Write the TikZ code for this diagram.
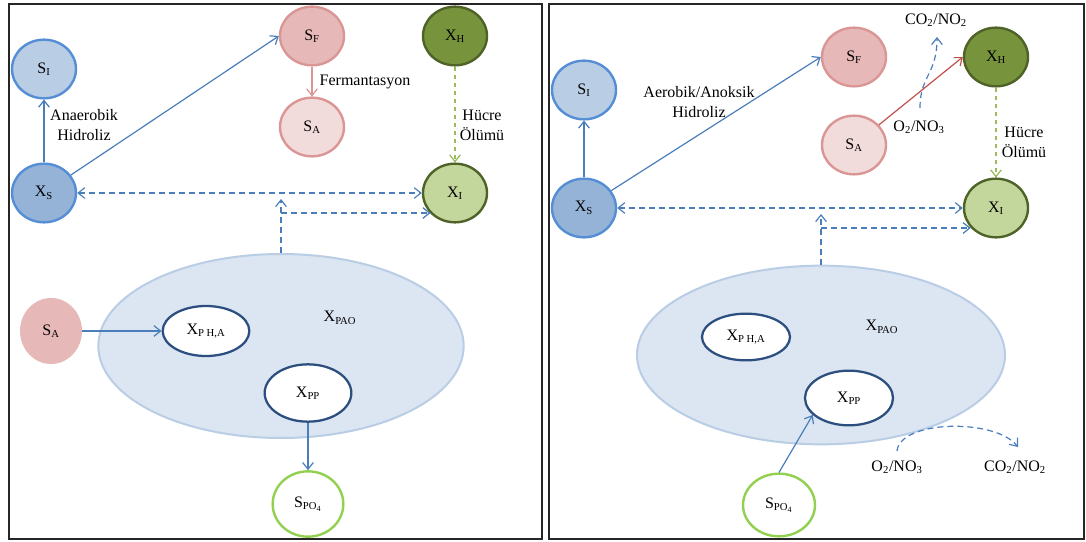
\documentclass[tikz,border=0pt]{standalone}
\usepackage{fontspec}
\setmainfont{Liberation Serif}
\usetikzlibrary{shapes.geometric,arrows.meta}

\definecolor{lnblue}{HTML}{4A7EBB}
\definecolor{siF}{HTML}{B9CDE5}
\definecolor{bluedraw}{HTML}{558ED5}
\definecolor{xsF}{HTML}{95B3D7}
\definecolor{sfF}{HTML}{E6B9B8}
\definecolor{pinkdraw}{HTML}{D99694}
\definecolor{saF}{HTML}{F2DCDB}
\definecolor{xhF}{HTML}{77933C}
\definecolor{greendraw}{HTML}{4F6228}
\definecolor{xiF}{HTML}{C3D69B}
\definecolor{paoF}{HTML}{DCE6F2}
\definecolor{paoD}{HTML}{B9CDE5}
\definecolor{innerD}{HTML}{2C4F80}
\definecolor{poD}{HTML}{92D050}
\definecolor{redln}{HTML}{C0504D}
\definecolor{grdash}{HTML}{9BBB59}

\begin{document}
\begin{tikzpicture}[x=0.75pt,y=-0.75pt,
  font=\fontsize{12}{15}\selectfont,
  bub/.style={ellipse, inner sep=0pt, line width=1.8pt,
    minimum width=48pt, minimum height=44pt},
  cell/.style={ellipse, inner sep=0pt, fill=paoF, draw=paoD, line width=1.5pt},
  inbub/.style={ellipse, inner sep=0pt, fill=white, draw=innerD, line width=1.7pt},
  barb/.style={Straight Barb[length=5pt,width=8pt]},
  tip/.style={-{Straight Barb[length=5pt,width=8pt]}},
  flow/.style={draw=lnblue, line width=0.9pt, tip},
  dflow/.style={flow, dash pattern=on 4.5pt off 3pt},
  ddflow/.style={draw=lnblue, line width=0.9pt, dash pattern=on 4.5pt off 3pt,
    {Straight Barb[length=5pt,width=8pt]}-{Straight Barb[length=5pt,width=8pt]}},
  gdash/.style={draw=grdash, line width=0.9pt, dash pattern=on 3.5pt off 2.5pt, tip},
  frame/.style={draw=black!85, line width=1.6pt}
]
\useasboundingbox (0,0) rectangle (1086,542);

% panel frames
\draw[frame] (9,4) rectangle (542,539);
\draw[frame] (549,4) rectangle (1084,539);

% ---------------- left panel: anaerobic ----------------
\node[cell, minimum width=274pt, minimum height=138pt] (PAOL) at (281,346) {};
\node (PAOLab) at (340,318) {X\textsubscript{PAO}};

\node[bub, fill=siF, draw=bluedraw] (SIL) at (44,69) {S\textsubscript{I}};
\node[bub, fill=xsF, draw=bluedraw] (XSL) at (44,193) {X\textsubscript{S}};
\node[bub, fill=sfF, draw=pinkdraw] (SFL) at (312,36) {S\textsubscript{F}};
\node[bub, fill=saF, draw=pinkdraw] (SAL) at (312,127) {S\textsubscript{A}};
\node[bub, fill=xhF, draw=greendraw] (XHL) at (455,36) {X\textsubscript{H}};
\node[bub, fill=xiF, draw=greendraw] (XIL) at (455,193) {X\textsubscript{I}};

\node[ellipse, inner sep=0pt, fill=sfF, minimum width=46.5pt, minimum height=49.5pt] (SA2L) at (51,331) {S\textsubscript{A}};
\node[inbub, minimum width=65pt, minimum height=37.5pt] (XPHL) at (206,331) {X\textsubscript{P H,A}};
\node[inbub, minimum width=65pt, minimum height=43pt] (XPPL) at (308,393) {X\textsubscript{PP}};
\node[bub, fill=white, draw=poD, minimum width=53pt, minimum height=49pt] (SPOL) at (308,504) {S\textsubscript{PO\textsubscript{4}}};

\node[align=center] (LhydL) at (84,125) {Anaerobik\\Hidroliz};
\node[anchor=west] (LferL) at (315,82) {Fermantasyon};
\node[align=center] (LdeathL) at (482,125) {Hücre\\Ölümü};

\draw[flow] (XSL) -- (SIL);
\draw[flow] (XSL) -- (SFL.west);
\draw[flow, draw=pinkdraw] (SFL) -- (SAL);
\draw[gdash] (XHL) -- (XIL);
\draw[ddflow] (XSL) -- (XIL);
\coordinate (LupTip) at (281,199);
\coordinate (Ljoin) at (281,213);
\draw[dflow] (PAOL.north) -- (LupTip);
\draw[dflow] (Ljoin) -- (Ljoin -| XIL.220);
\draw[flow] (SA2L) -- (XPHL);
\draw[flow] (XPPL) -- (SPOL);

% ---------------- right panel: aerobic / anoxic ----------------
\node[cell, minimum width=276pt, minimum height=134pt] (PAOR) at (821,355) {};
\node (PAORLab) at (882,327) {X\textsubscript{PAO}};

\node[bub, fill=siF, draw=bluedraw] (SIR) at (584,90) {S\textsubscript{I}};
\node[bub, fill=xsF, draw=bluedraw] (XSR) at (584,208) {X\textsubscript{S}};
\node[bub, fill=sfF, draw=pinkdraw] (SFR) at (854,57) {S\textsubscript{F}};
\node[bub, fill=saF, draw=pinkdraw] (SAR) at (854,145) {S\textsubscript{A}};
\node[bub, fill=xhF, draw=greendraw] (XHR) at (996,57) {X\textsubscript{H}};
\node[bub, fill=xiF, draw=greendraw] (XIR) at (996,208) {X\textsubscript{I}};

\node[inbub, minimum width=66pt, minimum height=35pt] (XPHR) at (746,337) {X\textsubscript{P H,A}};
\node[inbub, minimum width=66pt, minimum height=41pt] (XPPR) at (849,398) {X\textsubscript{PP}};
\node[bub, fill=white, draw=poD, minimum width=54pt, minimum height=47pt] (SPOR) at (779,505) {S\textsubscript{PO\textsubscript{4}}};

\node[align=center] (RhydL) at (699,102) {Aerobik/Anoksik\\Hidroliz};
\node[align=center] (RdeathL) at (1024,142) {Hücre\\Ölümü};
\node (RCO2t) at (936,20) {CO\textsubscript{2}/NO\textsubscript{2}};
\node (RO2t) at (919,127) {O\textsubscript{2}/NO\textsubscript{3}};
\node (RO2b) at (897,467) {O\textsubscript{2}/NO\textsubscript{3}};
\node (RCO2b) at (1015,467) {CO\textsubscript{2}/NO\textsubscript{2}};

\draw[flow] (XSR) -- (SIR);
\draw[flow] (XSR) -- (SFR.west);
\draw[flow, draw=redln] (SAR) -- (XHR.west);
\draw[gdash] (XHR) -- (XIR);
\draw[ddflow] (XSR) -- (XIR);
\coordinate (RupTip) at (821,214);
\coordinate (Rjoin) at (821,228);
\draw[dflow] (PAOR.north) -- (RupTip);
\draw[dflow] (Rjoin) -- (Rjoin -| XIR.218);
\draw[flow] (SPOR.north) -- (XPPR.205);

% electron acceptor / product exchange
\coordinate (RwavS) at (920,108);
\coordinate (RwavE) at (937,37);
\draw[dflow] (RwavS) .. controls (920,75) and (937,75) .. (RwavE);
\coordinate (RcurS) at (897,451);
\coordinate (RcurE) at (1018,447);
\draw[dflow] (RcurS) .. controls (900,420) and (995,418) .. (RcurE);
\end{tikzpicture}
\end{document}
